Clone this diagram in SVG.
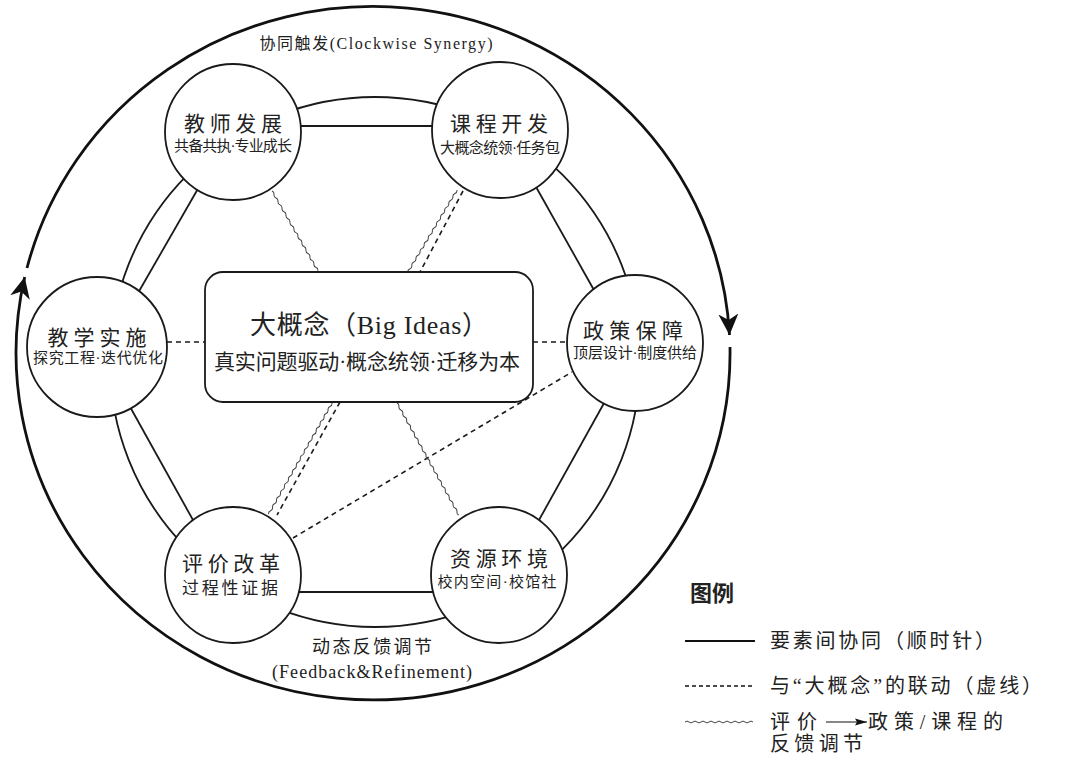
<svg xmlns="http://www.w3.org/2000/svg" width="1065" height="762" viewBox="0 0 1065 762">
<defs>
<style>
.ln{fill:none;stroke:#1a1a1a;stroke-width:1.8}
.big{fill:none;stroke:#111;stroke-width:2.8}
.dash{fill:none;stroke:#1a1a1a;stroke-width:1.6;stroke-dasharray:5 4}
.wave{fill:none;stroke:#444;stroke-width:1}
.node{fill:#fff;stroke:#1a1a1a;stroke-width:1.8}
text{font-family:"Liberation Serif","Noto Sans CJK SC",serif;fill:#222}
.t{font-size:21px;text-anchor:middle}
.s{font-size:15px;text-anchor:middle}
.lg{font-size:20px}
</style>
<marker id="ah" viewBox="0 0 22 20" refX="21" refY="10" markerWidth="22" markerHeight="20" markerUnits="userSpaceOnUse" orient="auto"><path d="M0,0 L21,10 L0,20 L6,10 z" fill="#111"/></marker>
<marker id="sa" viewBox="0 0 12 8" refX="12" refY="4" markerWidth="12" markerHeight="8" markerUnits="userSpaceOnUse" orient="auto"><path d="M0,0.5 L12,4 L0,7.5 L2,4 z" fill="#111"/></marker>
</defs>
<rect width="1065" height="762" fill="#fff"/>
<g id="connectors">
<path class="big" d="M27,268 A357 347 0 0 1 729.5,335" marker-end="url(#ah)"/>
<path class="big" d="M730,347 A357 347 0 1 1 24.7,277" marker-end="url(#ah)"/>
<circle class="ln" cx="375" cy="362" r="265"/>
<path class="ln" d="M290,126 L445,126"/>
<path class="ln" d="M290,592 L445,592"/>
<path class="ln" d="M203,180 L134,300"/>
<path class="ln" d="M124,396 L198,529"/>
<path class="ln" d="M531,178 L599,299"/>
<path class="ln" d="M608,396 L534,529"/>
<path class="dash" d="M167,342 L205,342"/>
<path class="dash" d="M533,342 L567,342"/>
<path class="dash" d="M463,191 L420,272"/>
<path class="dash" d="M340,402 L277,515"/>
<path class="dash" d="M293,538 L572,372"/>
<path class="wave" transform="translate(272,191) rotate(60.1)" d="M0,0 q2,-1.5 4,0 t4,0 t4,0 t4,0 t4,0 t4,0 t4,0 t4,0 t4,0 t4,0 t4,0 t4,0 t4,0 t4,0 t4,0 t4,0 t4,0 t4,0 t4,0 t4,0 t4,0 t4,0 t4,0"/>
<path class="wave" transform="translate(457,190) rotate(120.9)" d="M0,0 q2,-1.5 4,0 t4,0 t4,0 t4,0 t4,0 t4,0 t4,0 t4,0 t4,0 t4,0 t4,0 t4,0 t4,0 t4,0 t4,0 t4,0 t4,0 t4,0 t4,0 t4,0 t4,0 t4,0 t4,0 t4,0"/>
<path class="wave" transform="translate(332,403) rotate(119.7)" d="M0,0 q2,-1.5 4,0 t4,0 t4,0 t4,0 t4,0 t4,0 t4,0 t4,0 t4,0 t4,0 t4,0 t4,0 t4,0 t4,0 t4,0 t4,0 t4,0 t4,0 t4,0 t4,0 t4,0 t4,0 t4,0 t4,0 t4,0 t4,0 t4,0 t4,0 t4,0 t4,0 t4,0 t4,0"/>
<path class="wave" transform="translate(397,403) rotate(61.1)" d="M0,0 q2,-1.5 4,0 t4,0 t4,0 t4,0 t4,0 t4,0 t4,0 t4,0 t4,0 t4,0 t4,0 t4,0 t4,0 t4,0 t4,0 t4,0 t4,0 t4,0 t4,0 t4,0 t4,0 t4,0 t4,0 t4,0 t4,0 t4,0 t4,0 t4,0 t4,0 t4,0 t4,0 t4,0"/>
</g>
<g id="center">
<rect x="205" y="272" width="328" height="130" rx="18" fill="#fff" stroke="#1a1a1a" stroke-width="1.8"/>
<text x="369" y="334" font-size="26" text-anchor="middle" textLength="238">大概念（Big Ideas）</text>
<text x="367" y="369" font-size="21" text-anchor="middle" textLength="306">真实问题驱动·概念统领·迁移为本</text>
</g>
<g id="n-teacher">
<circle class="node" cx="233" cy="132" r="68"/>
<text class="t" x="233" y="131" textLength="98">教师发展</text>
<text class="s" x="233" y="151" textLength="118">共备共执·专业成长</text>
</g>
<g id="n-course">
<circle class="node" cx="500" cy="130" r="68"/>
<text class="t" x="499" y="131" textLength="98">课程开发</text>
<text class="s" x="500" y="153" textLength="120">大概念统领·任务包</text>
</g>
<g id="n-teach">
<circle class="node" cx="97" cy="347" r="70"/>
<text class="t" x="97" y="345" textLength="99">教学实施</text>
<text class="s" x="98" y="363" textLength="130">探究工程·迭代优化</text>
</g>
<g id="n-policy">
<circle class="node" cx="635" cy="343" r="68"/>
<text class="t" x="633" y="338" textLength="100">政策保障</text>
<text class="s" x="635" y="358" textLength="124">顶层设计·制度供给</text>
</g>
<g id="n-eval">
<circle class="node" cx="233" cy="575" r="68"/>
<text class="t" x="231" y="571" textLength="98">评价改革</text>
<text x="230" y="594" font-size="17" text-anchor="middle" textLength="96">过程性证据</text>
</g>
<g id="n-resource">
<circle class="node" cx="499" cy="575" r="68"/>
<text class="t" x="499" y="566" textLength="98">资源环境</text>
<text class="s" x="497" y="587" textLength="119">校内空间·校馆社</text>
</g>
<g id="labels">
<text x="376" y="49" font-size="16" text-anchor="middle" textLength="233">协同触发(Clockwise Synergy)</text>
<text x="372" y="653" font-size="18" text-anchor="middle" textLength="120">动态反馈调节</text>
<text x="372" y="678" font-size="18" text-anchor="middle" textLength="200">(Feedback&amp;Refinement)</text>
</g>
<g id="legend">
<text x="690" y="601" font-size="22" font-weight="bold" style="font-family:'Noto Sans CJK SC',sans-serif" fill="#111">图例</text>
<path d="M685,641 L755,641" stroke="#111" stroke-width="2" fill="none"/>
<text class="lg" x="770" y="648" textLength="225">要素间协同（顺时针）</text>
<path d="M685,686 L755,686" stroke="#111" stroke-width="1.4" stroke-dasharray="4 3" fill="none"/>
<text class="lg" x="770" y="693" textLength="272">与“大概念”的联动（虚线）</text>
<path class="wave" transform="translate(685,722)" d="M0,0 q2,-1.8 4,0 t4,0 t4,0 t4,0 t4,0 t4,0 t4,0 t4,0 t4,0 t4,0 t4,0 t4,0 t4,0 t4,0 t4,0 t4,0 t4,0"/>
<text class="lg" x="770" y="729" textLength="47">评价</text>
<path d="M826,722 L867,722" stroke="#111" stroke-width="1.2" fill="none" marker-end="url(#sa)"/>
<text class="lg" x="868" y="729" textLength="135">政策/课程的</text>
<text class="lg" x="770" y="751" textLength="93">反馈调节</text>
</g>
</svg>
